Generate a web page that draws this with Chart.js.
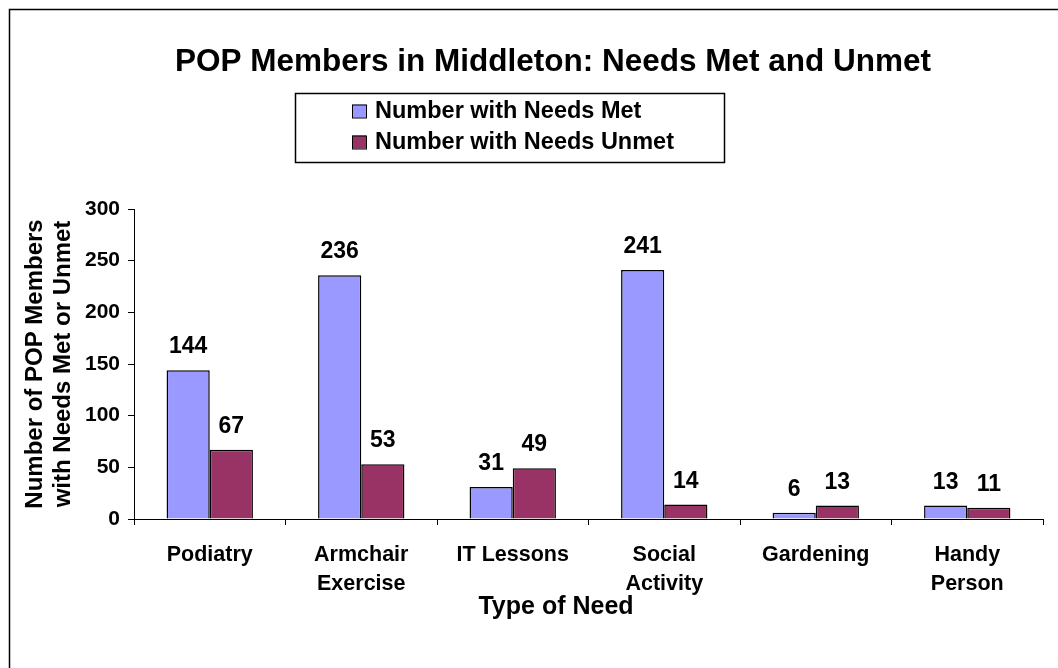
<!DOCTYPE html>
<html>
<head>
<meta charset="utf-8">
<script src="https://cdn.jsdelivr.net/npm/chart.js@4"></script>
<style>
html,body{margin:0;padding:0;background:#fff;}
#wrap{position:absolute;left:0;top:0;width:1058px;height:668px;}
</style>
</head>
<body>
<div id="wrap"><canvas id="c" width="1058" height="668"></canvas></div>
<script>
const categories = [['Podiatry'], ['Armchair', 'Exercise'], ['IT Lessons'], ['Social', 'Activity'], ['Gardening'], ['Handy', 'Person']];
const needsMet = [144, 236, 31, 241, 6, 13];
const needsUnmet = [67, 53, 49, 14, 13, 11];
const seriesNames = ['Number with Needs Met', 'Number with Needs Unmet'];
const chartTitle = 'POP Members in Middleton: Needs Met and Unmet';
const yTitle = ['Number of POP Members', 'with Needs Met or Unmet'];
const xTitle = 'Type of Need';

const FONT = '"Liberation Sans", Arial, sans-serif';

const framePlugin = {
  id: 'frame',
  beforeDraw(chart) {
    const ctx = chart.ctx;
    ctx.save();
    ctx.fillStyle = '#fff';
    ctx.fillRect(0, 0, chart.width, chart.height);
    ctx.strokeStyle = '#000';
    ctx.lineWidth = 1.5;
    ctx.strokeRect(9.5, 9.5, 1200, 800);
    ctx.restore();
  },
  afterDraw(chart) {
    const ctx = chart.ctx;
    ctx.save();
    // title
    ctx.fillStyle = '#000';
    ctx.font = 'bold 31.5px ' + FONT;
    ctx.textAlign = 'center';
    ctx.textBaseline = 'middle';
    ctx.fillText(chartTitle, 553, 62);
    // x axis title
    ctx.font = 'bold 25px ' + FONT;
    ctx.fillText(xTitle, 556, 607);
    // legend box
    ctx.strokeStyle = '#000';
    ctx.lineWidth = 1.5;
    ctx.strokeRect(295.5, 93.5, 429, 69);
    ctx.font = 'bold 23.5px ' + FONT;
    ctx.textAlign = 'left';
    const ys = [111, 142];
    chart.data.datasets.forEach((ds, i) => {
      ctx.fillStyle = ds.backgroundColor;
      ctx.fillRect(352, ys[i] - 6.5, 14, 13);
      ctx.lineWidth = 1;
      ctx.strokeRect(352.5, ys[i] - 6, 14, 13);
      ctx.fillStyle = '#000';
      ctx.fillText(ds.label, 375, ys[i] + 1);
    });
    // data labels
    ctx.font = 'bold 23px ' + FONT;
    ctx.textAlign = 'center';
    ctx.textBaseline = 'alphabetic';
    chart.data.datasets.forEach((ds, i) => {
      const meta = chart.getDatasetMeta(i);
      meta.data.forEach((bar, j) => {
        ctx.fillText(String(ds.data[j]), bar.x, bar.y - 17);
      });
    });
    ctx.restore();
  }
};

new Chart(document.getElementById('c'), {
  type: 'bar',
  data: {
    labels: categories,
    datasets: [
      { label: seriesNames[0], data: needsMet, backgroundColor: '#9999FF', borderColor: '#000', borderWidth: 1.5 },
      { label: seriesNames[1], data: needsUnmet, backgroundColor: '#993366', borderColor: '#000', borderWidth: 1.5 }
    ]
  },
  options: {
    responsive: false,
    animation: false,
    devicePixelRatio: 1,
    layout: { padding: { left: 12, right: 15, top: 209, bottom: 0 } },
    plugins: { legend: { display: false }, title: { display: false }, tooltip: { enabled: false } },
    datasets: { bar: { categoryPercentage: 0.57, barPercentage: 1.0 } },
    scales: {
      x: {
        grid: { drawOnChartArea: false, drawTicks: true, tickLength: 6, color: '#000', offset: true },
        border: { color: '#000', width: 1 },
        ticks: { color: '#000', font: { family: FONT, weight: 'bold', size: 21.5, lineHeight: 1.36 }, padding: 15, maxRotation: 0, autoSkip: false },
        title: { display: false },
        afterFit(scale) { scale.height = 149; }
      },
      y: {
        min: 0, max: 300,
        grid: { drawOnChartArea: false, drawTicks: true, tickLength: 6, color: '#000' },
        border: { color: '#000', width: 1 },
        ticks: { stepSize: 50, color: '#000', font: { family: FONT, weight: 'bold', size: 21 }, padding: 8 },
        title: { display: true, text: yTitle, color: '#000', font: { family: FONT, weight: 'bold', size: 24, lineHeight: 1.17 }, padding: { top: 9, bottom: 0 } },
        afterFit(scale) { scale.width = 122; }
      }
    }
  },
  plugins: [framePlugin]
});
</script>
</body>
</html>
